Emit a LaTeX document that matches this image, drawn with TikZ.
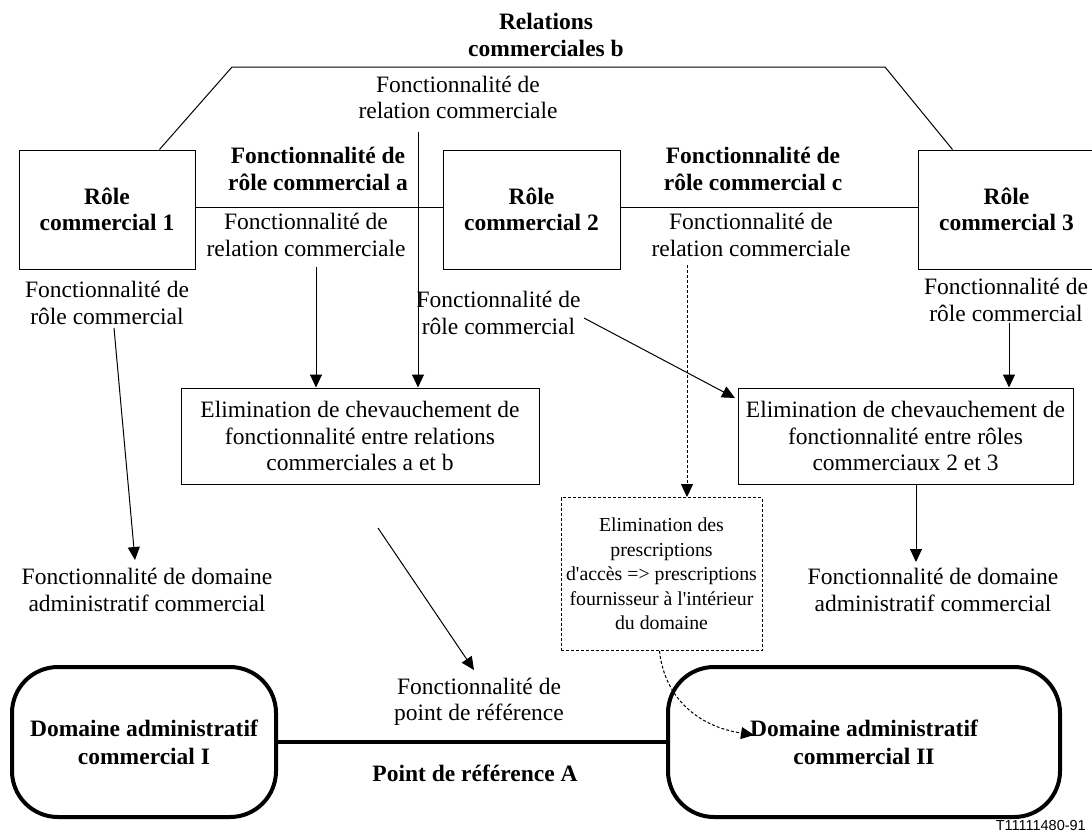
\documentclass[tikz,border=0pt]{standalone}
\usepackage{fontspec}
\setmainfont{Liberation Serif}
\newfontfamily\tagfont{Liberation Sans}
\usetikzlibrary{arrows.meta,calc}

\tikzset{
  txt/.style={align=center, inner sep=0pt, font=\fontsize{23.5}{26.5}\selectfont},
  btxt/.style={align=center, inner sep=0pt, font=\fontsize{23.5}{26.5}\selectfont\bfseries},
  rolebox/.style={draw, line width=1pt, minimum width=#1, minimum height=119pt,
    inner sep=0pt, align=center, font=\fontsize{23.5}{26.5}\selectfont\bfseries},
  elimbox/.style={draw, line width=1pt, minimum width=#1, minimum height=96pt,
    inner sep=0pt, align=center, font=\fontsize{23.5}{26.5}\selectfont},
  notebox/.style={draw, line width=0.9pt, dash pattern=on 3pt off 2pt,
    minimum width=201pt, minimum height=153pt, inner sep=0pt, align=center,
    font=\fontsize{19.8}{24.5}\selectfont},
  domainbox/.style={draw, line width=4pt, rounded corners=46pt, minimum width=#1,
    minimum height=150pt, inner sep=0pt, align=center,
    font=\fontsize{23.5}{28}\selectfont\bfseries},
  thin/.style={line width=1pt},
  arr/.style={line width=1pt, -{Triangle[length=13pt,width=12pt]}},
  darr/.style={arr, dash pattern=on 3pt off 2pt},
}

\begin{document}
\begin{tikzpicture}[x=1pt, y=-1pt]
\useasboundingbox (0,0) rectangle (1092,839);

% commercial roles
\node[rolebox=176pt] (r1) at (107,209.5) {Rôle\\commercial 1};
\node[rolebox=177pt] (r2) at (531.5,209.5) {Rôle\\commercial 2};
\node[rolebox=177pt] (r3) at (1006.5,209.5) {Rôle\\commercial 3};

% labels along the relations
\node[btxt] (relB) at (546,35) {Relations\\commerciales b};
\node[txt] (relTop) at (458,97.5) {Fonctionnalité de\\relation commerciale};
\node[btxt] (lblA) at (318,169) {Fonctionnalité de\\rôle commercial a};
\node[btxt] (lblC) at (753,169) {Fonctionnalité de\\rôle commercial c};
\node[txt] (relA) at (306,235) {Fonctionnalité de\\relation commerciale};
\node[txt] (relC) at (751,235) {Fonctionnalité de\\relation commerciale};

% role functionality labels
\node[txt] (rc1) at (107,303) {Fonctionnalité de\\rôle commercial};
\node[txt] (rc2) at (498.5,313) {Fonctionnalité de\\rôle commercial};
\node[txt] (rc3) at (1006,300) {Fonctionnalité de\\rôle commercial};

% overlap elimination boxes
\node[elimbox=358pt] (ab) at (360,436) {Elimination de chevauchement de\\fonctionnalité entre relations\\commerciales a et b};
\node[elimbox=335pt] (bc) at (905.5,436) {Elimination de chevauchement de\\fonctionnalité entre rôles\\commerciaux 2 et 3};

% domain functionality labels
\node[txt] (dom1) at (147,590) {Fonctionnalité de domaine\\administratif commercial};
\node[txt] (dom2) at (933,590) {Fonctionnalité de domaine\\administratif commercial};

% access requirement note
\node[notebox] (presc) at (661.5,574) {Elimination des\\prescriptions\\d\textquotesingle accès => prescriptions\\fournisseur à l\textquotesingle intérieur\\du domaine};

% reference point
\node[txt] (pr) at (479,702) {Fonctionnalité de\\point de référence};
\node[domainbox=264pt] (d1) at (144,742) {Domaine administratif\\commercial I};
\node[domainbox=392pt] (d2) at (864,742) {Domaine administratif\\commercial II};
\node[btxt] (pra) at (475,773) {Point de référence A};

\node[anchor=east, inner sep=0pt, font=\tagfont\fontsize{14.5}{16}\selectfont] (tag) at (1086,825) {T11111480-91};

% connector end points
\coordinate (hy) at (0,207);
\coordinate (vt) at (418,132);
\coordinate (va) at (316,267);
\coordinate (c1s) at (114,328);
\coordinate (c1e) at (135,560);
\coordinate (abs) at (378,528);
\coordinate (abe) at (474,670);
\coordinate (c2s) at (584,318);
\coordinate (c2e) at (735,398);
\coordinate (c3s) at (1009,323);
\coordinate (bcx) at (916,0);
\coordinate (dome) at (916,562);
\coordinate (vc) at (687,265);
\coordinate (ce) at (754,735);

% relation b spanning roles 1 and 3
\draw[thin] ($(r1.north west)+(141,0)$) -- (232,67) -- (885,67) -- ($(r3.north west)+(35,0)$);
% relations a and c
\draw[thin] (r1.east |- hy) -- (r2.west |- hy);
\draw[thin] (r2.east |- hy) -- (r3.west |- hy);

% arrows
\draw[arr] (vt) -- (vt |- ab.north);
\draw[arr] (va) -- (va |- ab.north);
\draw[arr] (c1s) -- (c1e);
\draw[arr] (abs) -- (abe);
\draw[arr] (c2s) -- (c2e);
\draw[arr] (c3s) -- (c3s |- bc.north);
\draw[arr] (bcx |- bc.south) -- (dome);
\draw[darr] (vc) -- (vc |- presc.north);
\draw[darr] ($(presc.south)+(-2,0)$) .. controls (664,695) and (695,726) .. (ce);

% reference point A
\draw[line width=3.5pt] (d1.east) -- (d2.west);
\end{tikzpicture}
\end{document}
